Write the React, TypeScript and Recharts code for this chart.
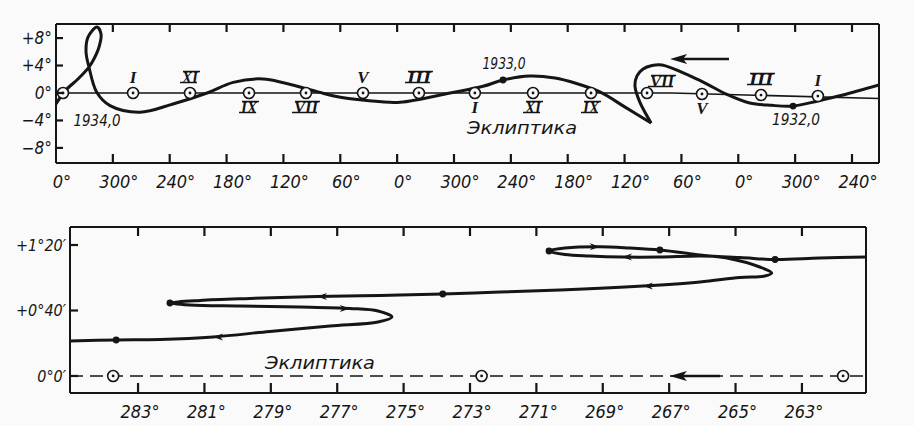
import { ComposedChart, Line, Scatter, XAxis, YAxis } from "recharts"

const INK = "#151515"
const PAPER = "#fafafa"
const FONT = "'DejaVu Sans Condensed', 'DejaVu Sans', sans-serif"
const WIDE = "'DejaVu Sans', sans-serif"
const SERIF = "'Liberation Serif', 'DejaVu Serif', serif"

// ---- upper panel: longitude unwrapped as degrees travelled from the left edge ----
const topTicks = [0, 60, 120, 180, 240, 300, 360, 420, 480, 540, 600, 660, 720, 780, 840]
const topTickLabels = ["0°", "300°", "240°", "180°", "120°", "60°", "0°", "300°", "240°", "180°", "120°", "60°", "0°", "300°", "240°"]
const topLatTicks = [-8, -4, 0, 4, 8]
const topLatLabels = ["−8°", "−4°", "0°", "+4°", "+8°"]

// planet track, from 1932 (right) to the cusp near VII
const trackALon = [868.5, 830.5, 804, 777.8, 755, 732, 708, 685, 669, 639.5, 629, 619.5, 613, 611, 616, 628]
const trackALat = [1.16, -0.3, -1.16, -1.9, -1.8, -1.45, -0.2, 1.45, 2.5, 4.07, 4.0, 3.5, 2.47, 1.0, -1.3, -4.37]
// from the cusp to 1934 (left edge), through the loop
const trackBLon = [628, 601, 574, 547.7, 526.6, 500, 471.7, 450.6, 415.8, 363, 328, 292, 275.4, 218.5, 187, 159.4, 123.5, 88.6, 57, 43, 34.8, 31.7, 33.8, 43.3, 47.5, 45.4, 40, 34.8, 23.2, 9.5, 0]
const trackBLat = [-4.37, -2.1, 0.15, 1.45, 2.18, 2.47, 1.89, 0.97, 0, -1.35, -1.1, -0.4, 0.2, 2.04, 1.55, 0, -1.6, -2.8, -1.85, 0.1, 3.78, 5.97, 8.15, 9.6, 8.6, 6.7, 4.95, 3.78, 2.04, 0.3, -1.6]

const eclipticLon = [0, 650, 868.5]
const eclipticLat = [0, 0, -0.8]

const sunLon = [7.4, 81.3, 141.4, 203.7, 263.8, 324, 383, 442, 503.4, 564.6, 623.7, 681.7, 744, 804]
const sunLat = [0, 0, 0, 0, 0, 0, 0, 0, 0, 0, 0, -0.15, -0.3, -0.45]
const sunMonth = ["", "I", "XI", "IX", "VII", "V", "III", "I", "XI", "IX", "VII", "V", "III", "I"]
const sunMonthSide = ["", "up", "up", "down", "down", "up", "up", "down", "down", "down", "right", "down", "up", "up"]

const epochLon = [777.8, 471.7]
const epochLat = [-1.9, 1.89]

const topNoteText = ["1934,0", "1933,0", "1932,0", "Эклиптика"]
const topNoteLon = [43.3, 472.8, 781, 491.8]
const topNoteLat = [-4.07, 4.2, -3.93, -5.1]

const topArrowLon = [710.2, 656]
const topArrowLat = [4.95, 4.95]

// ---- lower panel: ecliptic longitude in degrees, latitude in arc minutes ----
const lowTicks = [263, 265, 267, 269, 271, 273, 275, 277, 279, 281, 283]
const lowTickLabels = ["263°", "265°", "267°", "269°", "271°", "273°", "275°", "277°", "279°", "281°", "283°"]
const lowLatTicks = [0, 40, 80]
const lowLatLabels = ["0°0′", "+0°40′", "+1°20′"]

const pathLon = [261.07, 262.46, 263.81, 264.87, 266.07, 267.28, 268.42, 269.39, 270.14, 270.62, 270.14, 269.09, 268.18, 267.28, 266.07, 265.26, 264.27, 263.91, 264.12, 264.87, 266.07, 267.79, 270.29, 272.1, 273.82, 275.71, 277.61, 279.63, 281.13, 282.04, 281.44, 279.93, 278.12, 276.62, 275.77, 275.35, 275.77, 277.22, 279.03, 280.74, 282.34, 283.66, 285.05]
const pathLat = [72.67, 72.06, 71.15, 72.37, 73.28, 72.67, 72.67, 73.28, 74.2, 76.34, 78.17, 78.96, 78.17, 76.95, 73.89, 72.06, 66.56, 62.9, 61.07, 60.15, 57.4, 54.96, 52.52, 51.3, 50.08, 49.16, 48.55, 47.33, 46.11, 44.58, 43.36, 42.75, 42.14, 41.22, 39.69, 36.03, 32.98, 30.53, 27.18, 23.82, 22.29, 21.98, 21.37]

const pathDotLon = [263.81, 270.62, 267.28, 273.82, 282.04, 283.66]
const pathDotLat = [71.15, 76.34, 76.95, 50.08, 44.58, 21.98]

const pathArrowLon = [268.42, 269.09, 267.79, 277.61, 276.62, 280.74]
const pathArrowLat = [72.67, 78.96, 54.96, 48.55, 41.22, 23.82]
const pathArrowDir = ["left", "right", "left", "left", "right", "left"]

const lowSunLon = [283.75, 272.65, 261.76]
const lowEclipticLon = [285.05, 261.07]

const lowArrowLon = [265.47, 266.6]

// plot boxes (chart-local pixels) follow from the margins below
const TOP_BOX = { left: 56, top: 23, bottom: 163 }
const LOW_BOX = { left: 70, top: 26, bottom: 193 }

const pts = (xs: number[], ys: number[]) => xs.map((x, i) => ({ x, y: ys[i] }))

// centripetal Catmull-Rom, handles loops and U-turns without the overshoot of "natural"
const catmullRom = (ctx: any) => {
  let p: [number, number][] = []
  return {
    areaStart() {},
    areaEnd() {},
    lineStart() {
      p = []
    },
    point(x: number, y: number) {
      p.push([+x, +y])
    },
    lineEnd() {
      if (!p.length) return
      ctx.moveTo(p[0][0], p[0][1])
      const d = (a: number[], b: number[]) => Math.sqrt(Math.hypot(a[0] - b[0], a[1] - b[1]))
      for (let i = 0; i < p.length - 1; i++) {
        const p0 = p[Math.max(i - 1, 0)]
        const p1 = p[i]
        const p2 = p[i + 1]
        const p3 = p[Math.min(i + 2, p.length - 1)]
        const l01 = d(p0, p1), l12 = d(p1, p2), l23 = d(p2, p3)
        let x1 = p1[0], y1 = p1[1], x2 = p2[0], y2 = p2[1]
        if (l01 > 1e-6) {
          const a = 2 * l01 * l01 + 3 * l01 * l12 + l12 * l12
          const n = 3 * l01 * (l01 + l12)
          x1 = (p1[0] * a - p0[0] * l12 * l12 + p2[0] * l01 * l01) / n
          y1 = (p1[1] * a - p0[1] * l12 * l12 + p2[1] * l01 * l01) / n
        }
        if (l23 > 1e-6) {
          const b = 2 * l23 * l23 + 3 * l23 * l12 + l12 * l12
          const m = 3 * l23 * (l23 + l12)
          x2 = (p2[0] * b + p1[0] * l23 * l23 - p3[0] * l12 * l12) / m
          y2 = (p2[1] * b + p1[1] * l23 * l23 - p3[1] * l12 * l12) / m
        }
        ctx.bezierCurveTo(x1, y1, x2, y2, p2[0], p2[1])
      }
    },
  }
}

const SunMark = (p: any) => {
  const { cx, cy, payload } = p
  const side = payload.side
  const lx = side === "right" ? cx + 15 : cx
  const ly = side === "up" ? cy - 16 : side === "down" ? cy + 14 : cy - 12
  const label: string = payload.month
  const half = label.length * 4
  return (
    <g>
      <circle cx={cx} cy={cy} r={5.5} fill={PAPER} stroke={INK} strokeWidth={1.6} />
      <circle cx={cx} cy={cy} r={1.4} fill={INK} />
      {label && (
        <text x={lx} y={ly} dy="0.36em" textAnchor="middle" fontFamily={SERIF} fontStyle="italic" fontWeight="bold" fontSize={17} fill={INK}
          textLength={label.length > 1 ? label.length * 8 : undefined} lengthAdjust="spacingAndGlyphs">
          {label}
        </text>
      )}
      {label.length > 1 && (
        <path d={`M${lx - half + 1},${ly - 5.5} H${lx + half + 2} M${lx - half - 2},${ly + 5.5} H${lx + half - 1}`} stroke={INK} strokeWidth={1.5} />
      )}
    </g>
  )
}

const Dot = (p: any) => <circle cx={p.cx} cy={p.cy} r={3.4} fill={INK} />

// drawn widths of the hand-lettered notes in the reference
const noteWidth: Record<string, number> = { "1934,0": 47, "1933,0": 43, "1932,0": 48, "Эклиптика": 110 }

const Note = (p: any) => {
  const t: string = p.payload.text
  const big = t === "Эклиптика"
  return (
    <text x={p.cx} y={p.cy} dy="0.35em" textAnchor="middle" fontFamily={big ? WIDE : FONT} fontStyle="italic" fontSize={big ? 17 : 15}
      fill={INK} textLength={noteWidth[t]} lengthAdjust="spacingAndGlyphs">
      {t}
    </text>
  )
}

const Barb = (p: any) => {
  const s = p.payload.dir === "left" ? 1 : -1
  const { cx, cy } = p
  return <path d={`M${cx},${cy} L${cx + s * 10},${cy - 3.5} L${cx + s * 7},${cy} L${cx + s * 10},${cy + 3.5} Z`} fill={INK} />
}

const BigHead = (p: any) => {
  const { cx, cy } = p
  return <path d={`M${cx},${cy} L${cx + 17},${cy - 5} L${cx + 13},${cy} L${cx + 17},${cy + 5} Z`} fill={INK} />
}

// label plus the inward tick marks on both the bottom and top edges of the frame
const makeXTick = (ticks: number[], labels: string[], dx: number, box: { left: number; top: number; bottom: number }, len: number) => (p: any) => {
  const i = ticks.indexOf(p.payload.value)
  const onEdge = Math.abs(p.x - box.left) < 3
  return (
    <g>
      {!onEdge && (
        <g stroke={INK} strokeWidth={2.2}>
          <line x1={p.x} x2={p.x} y1={box.bottom} y2={box.bottom - len} />
          <line x1={p.x} x2={p.x} y1={box.top} y2={box.top + len} />
        </g>
      )}
      <text x={p.x + dx} y={box.bottom} dy={25} textAnchor="middle" fontFamily={FONT} fontStyle="italic" fontSize={18} fill={INK}>
        {labels[i]}
      </text>
    </g>
  )
}

const makeYTick = (ticks: number[], labels: string[], size: number, left: number, len: number) => (p: any) => {
  const i = ticks.indexOf(p.payload.value)
  return (
    <g>
      <line x1={left} x2={left + len} y1={p.y} y2={p.y} stroke={INK} strokeWidth={2.2} />
      <text x={left - 4} y={p.y} dy="0.35em" textAnchor="end" fontFamily={FONT} fontStyle="italic" fontSize={size} fill={INK}>
        {labels[i]}
      </text>
    </g>
  )
}

const frame = { stroke: INK, strokeWidth: 2 }

function TopPanel() {
  const sunData = sunLon.map((x, i) => ({ x, y: sunLat[i], month: sunMonth[i], side: sunMonthSide[i] }))
  const notes = topNoteText.map((text, i) => ({ x: topNoteLon[i], y: topNoteLat[i], text }))
  return (
    <ComposedChart width={914} height={200} margin={{ top: 23, right: 34, bottom: 7, left: 55 }}>
      <XAxis dataKey="x" type="number" domain={[0, 868.5]} ticks={topTicks} interval={0} height={30} tickLine={false}
        tick={makeXTick(topTicks, topTickLabels, 6, TOP_BOX, 9)} axisLine={frame} allowDataOverflow />
      <XAxis xAxisId="top" orientation="top" type="number" domain={[0, 868.5]} height={1} tick={false} tickLine={false} axisLine={frame} />
      <YAxis dataKey="y" type="number" domain={[-10.2, 10.05]} ticks={topLatTicks} interval={0} width={1} tickLine={false}
        tick={makeYTick(topLatTicks, topLatLabels, 17, TOP_BOX.left, 7)} axisLine={frame} allowDataOverflow />
      <YAxis yAxisId="r" orientation="right" width={1} domain={[0, 1]} tick={false} tickLine={false} axisLine={frame} />
      <Line data={pts(eclipticLon, eclipticLat)} dataKey="y" type="linear" stroke={INK} strokeWidth={1.6} dot={false} isAnimationActive={false} />
      <Line data={pts(trackALon, trackALat)} dataKey="y" type={catmullRom as any} stroke={INK} strokeWidth={3} dot={false} isAnimationActive={false} />
      <Line data={pts(trackBLon, trackBLat)} dataKey="y" type={catmullRom as any} stroke={INK} strokeWidth={3} dot={false} isAnimationActive={false} />
      <Line data={pts(topArrowLon, topArrowLat)} dataKey="y" type="linear" stroke={INK} strokeWidth={2.4} dot={false} isAnimationActive={false} />
      <Scatter data={pts([topArrowLon[1] - 8], [topArrowLat[1]])} shape={BigHead} isAnimationActive={false} />
      <Scatter data={sunData} shape={SunMark} isAnimationActive={false} />
      <Scatter data={pts(epochLon, epochLat)} shape={Dot} isAnimationActive={false} />
      <Scatter data={notes} shape={Note} isAnimationActive={false} />
    </ComposedChart>
  )
}

function LowPanel() {
  const arrows = pathArrowLon.map((x, i) => ({ x, y: pathArrowLat[i], dir: pathArrowDir[i] }))
  const sunData = lowSunLon.map((x) => ({ x, y: 0, month: "", side: "" }))
  return (
    <ComposedChart width={914} height={226} margin={{ top: 26, right: 47, bottom: 3, left: 69 }}>
      <XAxis dataKey="x" type="number" reversed domain={[261.07, 285.05]} ticks={lowTicks} interval={0} height={30} tickLine={false}
        tick={makeXTick(lowTicks, lowTickLabels, 2, LOW_BOX, 10)} axisLine={frame} allowDataOverflow />
      <XAxis xAxisId="top" orientation="top" type="number" reversed domain={[261.07, 285.05]} height={1} tick={false} tickLine={false} axisLine={frame} />
      <YAxis dataKey="y" type="number" domain={[-10.4, 91]} ticks={lowLatTicks} interval={0} width={1} tickLine={false}
        tick={makeYTick(lowLatTicks, lowLatLabels, 16, LOW_BOX.left, 8)} axisLine={frame} allowDataOverflow />
      <YAxis yAxisId="r" orientation="right" width={1} domain={[0, 1]} tick={false} tickLine={false} axisLine={frame} />
      <Line data={pts(lowEclipticLon, [0, 0])} dataKey="y" type="linear" stroke={INK} strokeWidth={1.6} strokeDasharray="13 7" dot={false} isAnimationActive={false} />
      <Line data={pts(lowArrowLon, [0, 0])} dataKey="y" type="linear" stroke={INK} strokeWidth={2.4} dot={false} isAnimationActive={false} />
      <Scatter data={pts([266.98], [0])} shape={BigHead} isAnimationActive={false} />
      <Line data={pts(pathLon, pathLat)} dataKey="y" type={catmullRom as any} stroke={INK} strokeWidth={3} dot={false} isAnimationActive={false} />
      <Scatter data={arrows} shape={Barb} isAnimationActive={false} />
      <Scatter data={pts(pathDotLon, pathDotLat)} shape={Dot} isAnimationActive={false} />
      <Scatter data={sunData} shape={SunMark} isAnimationActive={false} />
      <Scatter data={[{ x: 277.52, y: 7.9, text: "Эклиптика" }]} shape={Note} isAnimationActive={false} />
    </ComposedChart>
  )
}

export default function App() {
  return (
    <div style={{ position: "absolute", left: 0, top: 0, width: 914, height: 426, background: PAPER }}>
      <div style={{ position: "absolute", left: 0, top: 0 }}>
        <TopPanel />
      </div>
      <div style={{ position: "absolute", left: 0, top: 200 }}>
        <LowPanel />
      </div>
    </div>
  )
}
